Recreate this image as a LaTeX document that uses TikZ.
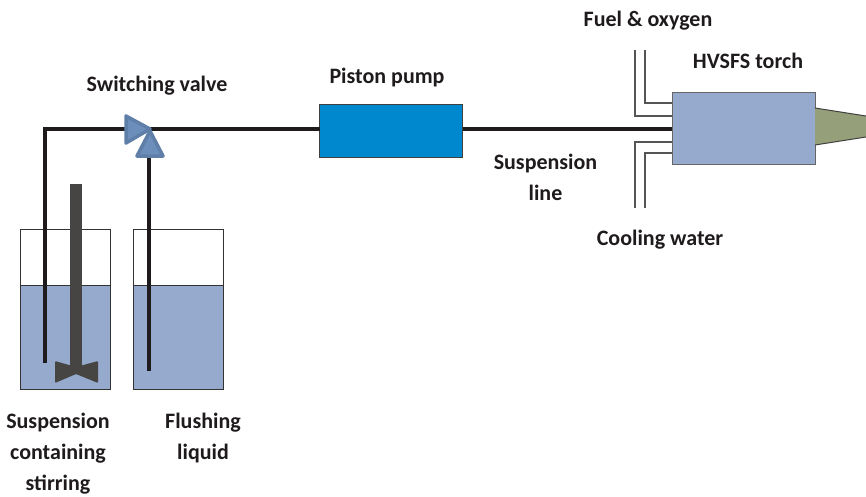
\documentclass[tikz,border=0pt]{standalone}
\usepackage{fontspec}
\setmainfont{Carlito}
\usetikzlibrary{positioning}

\definecolor{liquidblue}{HTML}{95AACD}
\definecolor{pumpblue}{HTML}{0088CE}
\definecolor{valveblue}{HTML}{6C8EBB}
\definecolor{valveedge}{HTML}{5F7FA9}
\definecolor{flamegreen}{HTML}{959F79}
\definecolor{pipeblack}{HTML}{1F1B1C}
\definecolor{stirgrey}{HTML}{464544}
\definecolor{feedgrey}{HTML}{555555}

\tikzset{
  lbl/.style={font=\fontsize{22}{31}\selectfont\bfseries, text=pipeblack, align=center, inner sep=0pt},
  box/.style={draw=#1, line width=1pt, inner sep=0pt, outer sep=0pt},
  pipe/.style={draw=pipeblack, line width=4.6pt},
  feed/.style={draw=feedgrey, line width=1.2pt},
  valvetri/.style={draw=valveedge, fill=valveblue, line width=3.5pt, line join=round}
}

\begin{document}
\begin{tikzpicture}[x=1pt,y=-1pt]
\useasboundingbox (0,0) rectangle (866,496);

\def\yliq{285}
\def\ybot{389}
\def\ypipe{129}

% vessels
\fill[liquidblue] (20.5,\yliq) rectangle (110.5,\ybot);
\fill[liquidblue] (133,\yliq) rectangle (223,\ybot);
\node[box=black!80, minimum width=90pt, minimum height=160pt] (vesl) at (65.5,309) {};
\node[box=black!80, minimum width=90pt, minimum height=160pt] (vesr) at (178,309) {};
\draw[line width=1pt, black!80] (20.5,\yliq) -- (110.5,\yliq);
\draw[line width=1pt, black!80] (133,\yliq) -- (223,\yliq);

% stirrer
\fill[stirgrey] (70,184) rectangle (82,370);
\fill[stirgrey, rounded corners=1pt] (55,361) -- (76,367) -- (98,361) -- (98,383) -- (76,374) -- (55,383) -- cycle;

% pump and torch
\node[box=black!75, fill=pumpblue, minimum width=143pt, minimum height=53pt] (pump) at (391,130.5) {};
\node[box=black!60, fill=liquidblue, minimum width=143pt, minimum height=72pt] (torch) at (743.5,128) {};
\fill[flamegreen] (815,108) -- (866,116) -- (866,137) -- (815,145) -- cycle;
\draw[black!75, line width=1pt] (815,108) -- (866,116);
\draw[black!75, line width=1pt] (815,145) -- (866,137);

% pipes
\coordinate (corner) at (45,\ypipe);
\coordinate (dipl) at (45,363);
\coordinate (dipr) at (149,371);
\coordinate (vin) at (126,\ypipe);
\coordinate (vtip) at (150,\ypipe);
\coordinate (vbase) at (149,156);
\draw[pipe, line join=miter] (dipl) -- (corner) -- (vin);
\draw[pipe] (vtip) -- (pump.west |- vtip);
\draw[pipe] (dipr) -- (vbase);
\draw[pipe] (pump.east |- vtip) -- (torch.west |- vtip);

% valve
\draw[valvetri] (126,116) -- (150,129) -- (126,143) -- cycle;
\draw[valvetri] (150,131) -- (163,156) -- (137,156) -- cycle;

% feed lines
\coordinate (fa) at (635,50);
\coordinate (fb) at (645,50);
\coordinate (ca) at (635,208);
\coordinate (cb) at (645,208);
\draw[feed] (fa) |- (torch.west |- 0,116);
\draw[feed] (fb) |- (torch.west |- 0,103);
\draw[feed] (ca) |- (torch.west |- 0,142);
\draw[feed] (cb) |- (torch.west |- 0,153);

% labels
\node[lbl] (lfuel) at (648,20.5) {Fuel \& oxygen};
\node[lbl] (ltorch) at (748,61) {HVSFS torch};
\node[lbl] (lvalve) at (157,86) {Switching valve};
\node[lbl] (lpump) at (387,78) {Piston pump};
\node[lbl] (lline) at (545.5,177) {Suspension\\line};
\node[lbl] (lwater) at (660,239.5) {Cooling water};
\node[lbl] (lsusp) at (58,453.5) {Suspension\\containing\\stirring};
\node[lbl] (lflush) at (203,437.5) {Flushing\\liquid};
\end{tikzpicture}
\end{document}
